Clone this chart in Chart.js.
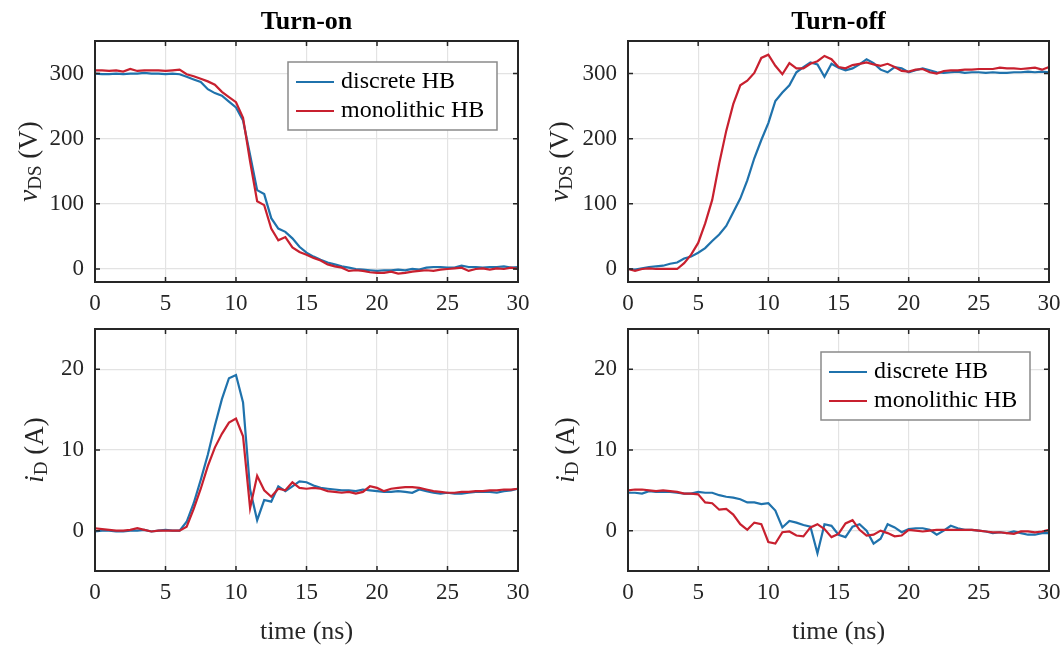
<!DOCTYPE html>
<html>
<head>
<meta charset="utf-8">
<script src="https://cdn.jsdelivr.net/npm/chart.js@4/dist/chart.umd.min.js"></script>
<style>
  html, body { margin: 0; padding: 0; background: #fff; }
  #wrap { position: relative; width: 1062px; height: 645px; overflow: hidden; }
  canvas { position: absolute; }
</style>
</head>
<body>
<div id="wrap">
  <canvas id="onV" style="left:0;top:0" width="531" height="316"></canvas>
  <canvas id="offV" style="left:531px;top:0" width="531" height="316"></canvas>
  <canvas id="onI" style="left:0;top:314px" width="531" height="331"></canvas>
  <canvas id="offI" style="left:531px;top:314px" width="531" height="331"></canvas>
</div>
<script>
// time axis (ns)
const timeNs = [0,0.5,1,1.5,2,2.5,3,3.5,4,4.5,5,5.5,6,6.5,7,7.5,8,8.5,9,9.5,10,10.5,11,11.5,12,12.5,13,13.5,14,14.5,
  15,15.5,16,16.5,17,17.5,18,18.5,19,19.5,20,20.5,21,21.5,22,22.5,23,23.5,24,24.5,25,25.5,26,26.5,27,27.5,28,28.5,29,29.5,30];
const timeTicks = [0, 5, 10, 15, 20, 25, 30];
const vTicks = [0, 100, 200, 300];
const iTicks = [0, 10, 20];
const seriesNames = ['discrete HB', 'monolithic HB'];

// turn-on, v_DS (V)
const onVdiscrete = [300,299,299,300,299,300,300,301,300,300, 299,300,299,295,291,287,276,270,266,257,
  248,228,175,121,115,78,62,57,47,34, 25,19,14,10,7,4,2,0,-1,-2, -3,-2,-2,-1,-2,0,-1,2,3,3, 2,2,5,3,3,2,3,3,4,2, 3];
const onVmono = [305,305,304,305,303,307,304,305,305,305, 304,305,306,299,296,292,288,283,272,264,
  256,232,165,104,98,62,44,49,33,26, 22,17,13,7,4,2,-3,-2,-3,-5, -6,-6,-4,-7,-6,-4,-3,-2,-3,-1, 0,1,2,-3,0,1,-1,1,0,2, 0];

// turn-off, v_DS (V)
const offVdiscrete = [0,-1,1,3,4,5,8,10,16,19, 25,32,43,53,66,87,108,136,170,198,
  224,258,271,282,302,310,317,314,295,315, 309,305,308,314,322,316,306,302,310,308,
  302,305,308,305,302,301,302,303,301,302, 302,301,302,301,301,302,302,303,302,303, 302];
const offVmono = [0,-3,0,1,0,0,0,0,9,22, 40,70,106,162,212,253,282,289,301,324,
  329,312,299,316,308,308,315,319,327,322, 310,308,313,315,317,314,312,315,310,304,
  303,306,307,302,300,304,305,305,306,306, 307,307,307,309,308,308,307,308,309,306, 310];

// turn-on, i_D (A)
const onIdiscrete = [-0.1,0,0,-0.1,-0.1,0,0,0.1,-0.1,0, 0.1,0,0,1.1,3.4,6.3,9.4,13.0,16.3,18.9,
  19.3,15.9,5.1,1.3,3.8,3.6,5.5,4.9,5.5,6.1, 6.0,5.6,5.3,5.2,5.1,5.0,5.0,4.9,5.1,5.0,
  4.9,4.8,4.8,4.9,4.8,4.7,5.1,4.9,4.7,4.6, 4.7,4.6,4.6,4.7,4.8,4.8,4.8,4.7,4.9,5.0, 5.2];
const onImono = [0.3,0.2,0.1,0,0,0.1,0.3,0.1,-0.1,0, 0,0,0,0.5,2.7,5.2,8.0,10.3,12.0,13.4,
  13.9,11.7,2.8,6.8,5.0,4.2,5.2,5.0,6.0,5.3, 5.2,5.3,5.2,4.9,4.8,4.7,4.8,4.6,4.8,5.5,
  5.3,4.9,5.2,5.3,5.4,5.4,5.3,5.1,4.9,4.8, 4.7,4.7,4.8,4.8,4.9,4.9,5.0,5.0,5.1,5.1, 5.2];

// turn-off, i_D (A)
const offIdiscrete = [4.7,4.7,4.6,4.9,4.8,4.8,4.8,4.7,4.6,4.6, 4.8,4.7,4.7,4.4,4.2,4.1,3.9,3.5,3.5,3.3,
  3.4,2.5,0.4,1.2,1.0,0.7,0.5,-2.8,0.8,0.6, -0.5,-0.8,0.5,0.8,0.0,-1.6,-1.0,0.8,0.4,-0.2,
  0.2,0.3,0.3,0.1,-0.5,0.0,0.6,0.3,0.1,0.1, 0.0,-0.1,-0.3,-0.2,-0.3,-0.1,-0.3,-0.5,-0.5,-0.3, -0.3];
const offImono = [5.0,5.1,5.1,5.0,4.9,5.0,4.9,4.8,4.6,4.6, 4.5,3.5,3.4,2.6,2.7,2.0,0.8,0.1,1.0,0.8,
  -1.4,-1.6,-0.2,-0.1,-0.6,-0.7,0.4,0.8,0.2,-0.8, -0.4,0.9,1.3,0.1,-0.6,-0.5,0.0,-0.3,-0.7,-0.6,
  0.1,0.0,-0.1,0.0,0.1,0.1,0.1,0.1,0.1,0.1, 0.0,-0.1,-0.2,-0.2,-0.3,-0.4,-0.1,-0.1,-0.2,-0.1, 0.1];

const SERIF = '"Liberation Serif", "Times New Roman", Times, serif';
const INK = '#262626';
const GRID = '#e3e3e3';
const BLUE = '#1f72ac';
const RED = '#c8202f';

// box, inward ticks, titles, axis labels and legend
const frame = {
  id: 'frame',
  afterDraw(chart, args, o) {
    const {ctx, chartArea: a, scales} = chart;
    const sx = scales.x, sy = scales.y;
    ctx.save();
    ctx.strokeStyle = INK;
    ctx.lineWidth = 1.5;
    ctx.beginPath();
    sx.ticks.forEach(t => {
      const x = sx.getPixelForValue(t.value);
      ctx.moveTo(x, a.bottom); ctx.lineTo(x, a.bottom - 5);
      ctx.moveTo(x, a.top); ctx.lineTo(x, a.top + 5);
    });
    sy.ticks.forEach(t => {
      const y = sy.getPixelForValue(t.value);
      ctx.moveTo(a.left, y); ctx.lineTo(a.left + 5, y);
      ctx.moveTo(a.right, y); ctx.lineTo(a.right - 5, y);
    });
    ctx.stroke();
    ctx.lineWidth = 2;
    ctx.strokeRect(a.left, a.top, a.right - a.left, a.bottom - a.top);

    ctx.fillStyle = '#000';
    if (o.title) {
      ctx.font = 'bold 26px ' + SERIF;
      ctx.textAlign = 'center';
      ctx.textBaseline = 'alphabetic';
      ctx.fillText(o.title, (a.left + a.right) / 2, 29);
    }

    if (o.xLabel) {
      ctx.fillStyle = INK;
      ctx.font = '26px ' + SERIF;
      ctx.textAlign = 'center';
      ctx.textBaseline = 'middle';
      ctx.fillText(o.xLabel, (a.left + a.right) / 2, o.xLabelY);
    }

    // y label: italic symbol, subscript, unit
    const parts = [
      {t: o.ySym, f: 'italic 27px ' + SERIF, dy: 0},
      {t: o.ySub, f: '19px ' + SERIF, dy: 6},
      {t: ' (' + o.yUnit + ')', f: '27px ' + SERIF, dy: 0}
    ];
    let total = 0;
    parts.forEach(p => { ctx.font = p.f; p.w = ctx.measureText(p.t).width; total += p.w; });
    ctx.save();
    ctx.translate(o.yLabelX, (a.top + a.bottom) / 2);
    ctx.rotate(-Math.PI / 2);
    ctx.fillStyle = INK;
    ctx.textAlign = 'left';
    ctx.textBaseline = 'middle';
    let px = -total / 2;
    parts.forEach(p => { ctx.font = p.f; ctx.fillText(p.t, px, p.dy); px += p.w; });
    ctx.restore();

    if (o.legend) {
      const w = 209, h = 68;
      const x0 = a.right - o.legend.right - w, y0 = a.top + o.legend.top;
      ctx.fillStyle = '#fff';
      ctx.fillRect(x0, y0, w, h);
      ctx.strokeStyle = '#8a8a8a';
      ctx.lineWidth = 1.5;
      ctx.strokeRect(x0, y0, w, h);
      ctx.font = '24px ' + SERIF;
      ctx.textAlign = 'left';
      ctx.textBaseline = 'middle';
      chart.data.datasets.forEach((d, i) => {
        const y = y0 + 20 + i * 29;
        ctx.strokeStyle = d.borderColor;
        ctx.lineWidth = 2.2;
        ctx.beginPath(); ctx.moveTo(x0 + 8, y); ctx.lineTo(x0 + 46, y); ctx.stroke();
        ctx.fillStyle = '#000';
        ctx.fillText(d.label, x0 + 53, y);
      });
    }
    ctx.restore();
  }
};

function build(id, o) {
  const mk = (vals, name, color, order) => ({
    label: name,
    data: timeNs.map((t, i) => ({x: t, y: vals[i]})),
    borderColor: color,
    backgroundColor: color,
    borderWidth: 2.2,
    pointRadius: 0,
    tension: 0,
    fill: false,
    order: order
  });
  const tickFont = {family: SERIF, size: 23};
  return new Chart(document.getElementById(id), {
    type: 'line',
    data: {datasets: [mk(o.a, seriesNames[0], BLUE, 1), mk(o.b, seriesNames[1], RED, 0)]},
    options: {
      responsive: false,
      animation: false,
      devicePixelRatio: 1,
      layout: {padding: {left: 0, right: 13, top: o.padTop, bottom: 0}},
      plugins: {
        legend: {display: false},
        tooltip: {enabled: false},
        frame: o.deco
      },
      scales: {
        x: {
          type: 'linear', min: 0, max: 30,
          afterBuildTicks: s => { s.ticks = timeTicks.map(v => ({value: v})); },
          afterFit: s => { s.height = o.xH; s.paddingLeft = 0; s.paddingRight = 0; },
          grid: {color: GRID, lineWidth: 1.2, drawTicks: false},
          border: {display: false},
          ticks: {font: tickFont, color: INK, padding: 8, maxRotation: 0}
        },
        y: {
          type: 'linear', min: o.yMin, max: o.yMax,
          afterBuildTicks: s => { s.ticks = o.yTicks.map(v => ({value: v})); },
          afterFit: s => { s.width = o.yW; s.paddingTop = 0; s.paddingBottom = 0; },
          grid: {color: GRID, lineWidth: 1.2, drawTicks: false},
          border: {display: false},
          ticks: {font: tickFont, color: INK, padding: 11}
        }
      }
    },
    plugins: [frame]
  });
}

build('onV', {a: onVdiscrete, b: onVmono, yMin: -20, yMax: 350, yTicks: vTicks, yW: 95, padTop: 41, xH: 34,
  deco: {title: 'Turn-on', ySym: 'v', ySub: 'DS', yUnit: 'V', yLabelX: 30,
    legend: {right: 21, top: 21}}});
build('offV', {a: offVdiscrete, b: offVmono, yMin: -20, yMax: 350, yTicks: vTicks, yW: 97, padTop: 41, xH: 34,
  deco: {title: 'Turn-off', ySym: 'v', ySub: 'DS', yUnit: 'V', yLabelX: 30}});
build('onI', {a: onIdiscrete, b: onImono, yMin: -5, yMax: 25, yTicks: iTicks, yW: 95, padTop: 15, xH: 74,
  deco: {ySym: 'i', ySub: 'D', yUnit: 'A', yLabelX: 36, xLabel: 'time (ns)', xLabelY: 318}});
build('offI', {a: offIdiscrete, b: offImono, yMin: -5, yMax: 25, yTicks: iTicks, yW: 97, padTop: 15, xH: 74,
  deco: {ySym: 'i', ySub: 'D', yUnit: 'A', yLabelX: 36, xLabel: 'time (ns)', xLabelY: 318,
    legend: {right: 19, top: 23}}});
</script>
</body>
</html>
